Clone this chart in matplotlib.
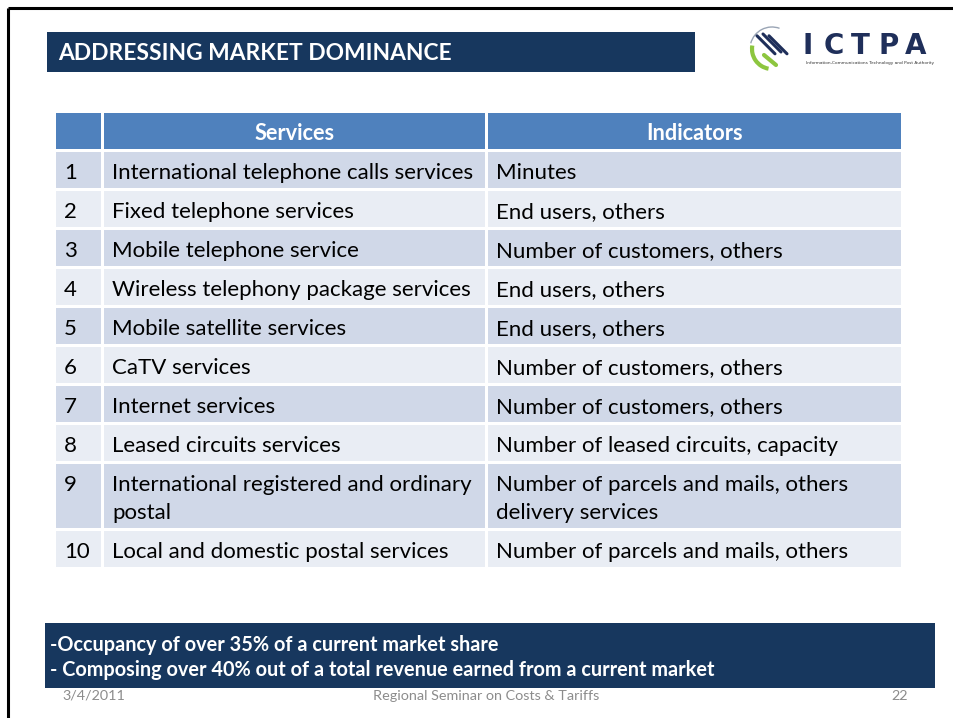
import matplotlib
matplotlib.use("Agg")
import matplotlib.pyplot as plt
from matplotlib.patches import Rectangle, Arc
import numpy as np

# ---------------- data ----------------
title = "ADDRESSING MARKET DOMINANCE"
headers = ["", "Services", "Indicators"]
row_numbers = ["1", "2", "3", "4", "5", "6", "7", "8", "9", "10"]
services = [
    "International telephone calls services",
    "Fixed telephone services",
    "Mobile telephone service",
    "Wireless telephony package services",
    "Mobile satellite services",
    "CaTV services",
    "Internet services",
    "Leased circuits services",
    "International registered and ordinary\npostal",
    "Local and domestic postal services",
]
indicators = [
    "Minutes",
    "End users, others",
    "Number of customers, others",
    "End users, others",
    "End users, others",
    "Number of customers, others",
    "Number of customers, others",
    "Number of leased circuits, capacity",
    "Number of parcels and mails, others\ndelivery services",
    "Number of parcels and mails, others",
]
criteria = [
    "-Occupancy of over 35% of a current market share",
    "- Composing over 40% out of a total revenue earned from a current market",
]
footer_date = "3/4/2011"
footer_center = "Regional Seminar on Costs & Tariffs"
footer_page = "22"
logo_name = "ICTPA"
logo_sub = "Information,Communications Technology and Post Authority"

# ---------------- style ----------------
W, H = 954, 718
FONT = "Lato"
NAVY = "#17375E"
HEAD = "#4F81BD"
ODD = "#D0D8E8"
EVEN = "#E9EDF4"

fig = plt.figure(figsize=(W / 100, H / 100), dpi=100)
ax = fig.add_axes([0, 0, 1, 1])
ax.set_xlim(0, W)
ax.set_ylim(H, 0)
ax.axis("off")
fig.canvas.draw()
renderer = fig.canvas.get_renderer()


def fit_size(text, target_px, weight="normal", start=14, family=FONT):
    t = ax.text(0, 0, text, fontsize=start, family=family, weight=weight)
    w = t.get_window_extent(renderer).width
    t.remove()
    return start * target_px / w


# slide border
ax.plot([8, 8], [8, H], color="black", lw=2.2, solid_capstyle="butt")
ax.plot([8, W], [8, 8], color="black", lw=2.2, solid_capstyle="butt")

# title bar
ax.add_patch(Rectangle((47, 32), 648, 40, color=NAVY, lw=0))
ts = fit_size(title, 394, "bold")
ax.text(58, 53, title, color="white", fontsize=ts, family=FONT, weight="bold",
        va="center", ha="left")

# logo icon (approximate swoosh)
icx, icy = 772, 49
ax.add_patch(Arc((icx, icy), 44, 44, theta1=195, theta2=290, color="#9AA5B5", lw=1.0))
for off in [-6, 0, 6]:
    ax.plot([icx - 9 + off, icx + 9 + off], [icy - 15 + abs(off) * 0.3, icy + 3 + abs(off) * 0.3],
            color="#1F2F5A", lw=2.2, solid_capstyle="round")
ax.add_patch(Arc((icx, icy), 40, 40, theta1=100, theta2=190, color="#8DC63F", lw=3.0))
ax.plot([icx - 8, icx + 4], [icy + 6, icy + 16], color="#8DC63F", lw=3.0,
        solid_capstyle="round")

# logo text
letter_x = [808, 834, 860, 889, 916]
for ch, lx in zip(logo_name, letter_x):
    ax.text(lx, 53.5, ch, color="#1F2F5A", fontsize=20, family="DejaVu Sans",
            weight="bold", va="baseline", ha="center")
ss = fit_size(logo_sub, 126, family="DejaVu Sans")
ax.text(806, 63, logo_sub, color="#333333", fontsize=ss, family="DejaVu Sans",
        va="center", ha="left")

# table
col_x = [56, 104, 488]
col_w = [45, 381, 413]
gap = 3
head_top, head_h = 113, 36
line_h = 28
single_h = 36

body_size = fit_size(services[0], 361)
head_size = body_size * 0.98

y = head_top
for j in range(3):
    ax.add_patch(Rectangle((col_x[j], y), col_w[j], head_h, color=HEAD, lw=0))
    if headers[j]:
        ax.text(col_x[j] + col_w[j] / 2, y + head_h / 2 + 2, headers[j],
                color="white", fontsize=head_size, family=FONT, weight="bold",
                ha="center", va="center")
y += head_h + gap

for i in range(len(row_numbers)):
    nlines = max(services[i].count("\n"), indicators[i].count("\n")) + 1
    h = single_h + (nlines - 1) * line_h
    color = ODD if i % 2 == 0 else EVEN
    for j in range(3):
        ax.add_patch(Rectangle((col_x[j], y), col_w[j], h, color=color, lw=0))
    cells = [row_numbers[i], services[i], indicators[i]]
    for j, txt in enumerate(cells):
        for k, line in enumerate(txt.split("\n")):
            ax.text(col_x[j] + 8, y + single_h / 2 + 3 + k * line_h, line,
                    color="black", fontsize=body_size, family=FONT,
                    ha="left", va="center")
    y += h + gap

# criteria box
ax.add_patch(Rectangle((45, 623), 890, 65, color=NAVY, lw=0))
cs = fit_size(criteria[1], 668, "bold")
for k, line in enumerate(criteria):
    ax.text(50, 645 + k * 25, line, color="white", fontsize=cs, family=FONT,
            weight="bold", ha="left", va="center")

# footer
fs = fit_size(footer_center, 228)
ax.text(62, 696, footer_date, color="#8C8C8C", fontsize=fs, family=FONT,
        ha="left", va="center")
ax.text(486, 696, footer_center, color="#8C8C8C", fontsize=fs, family=FONT,
        ha="center", va="center")
ax.text(908, 696, footer_page, color="#8C8C8C", fontsize=fs, family=FONT,
        ha="right", va="center")

fig.savefig("out.png", dpi=100)
